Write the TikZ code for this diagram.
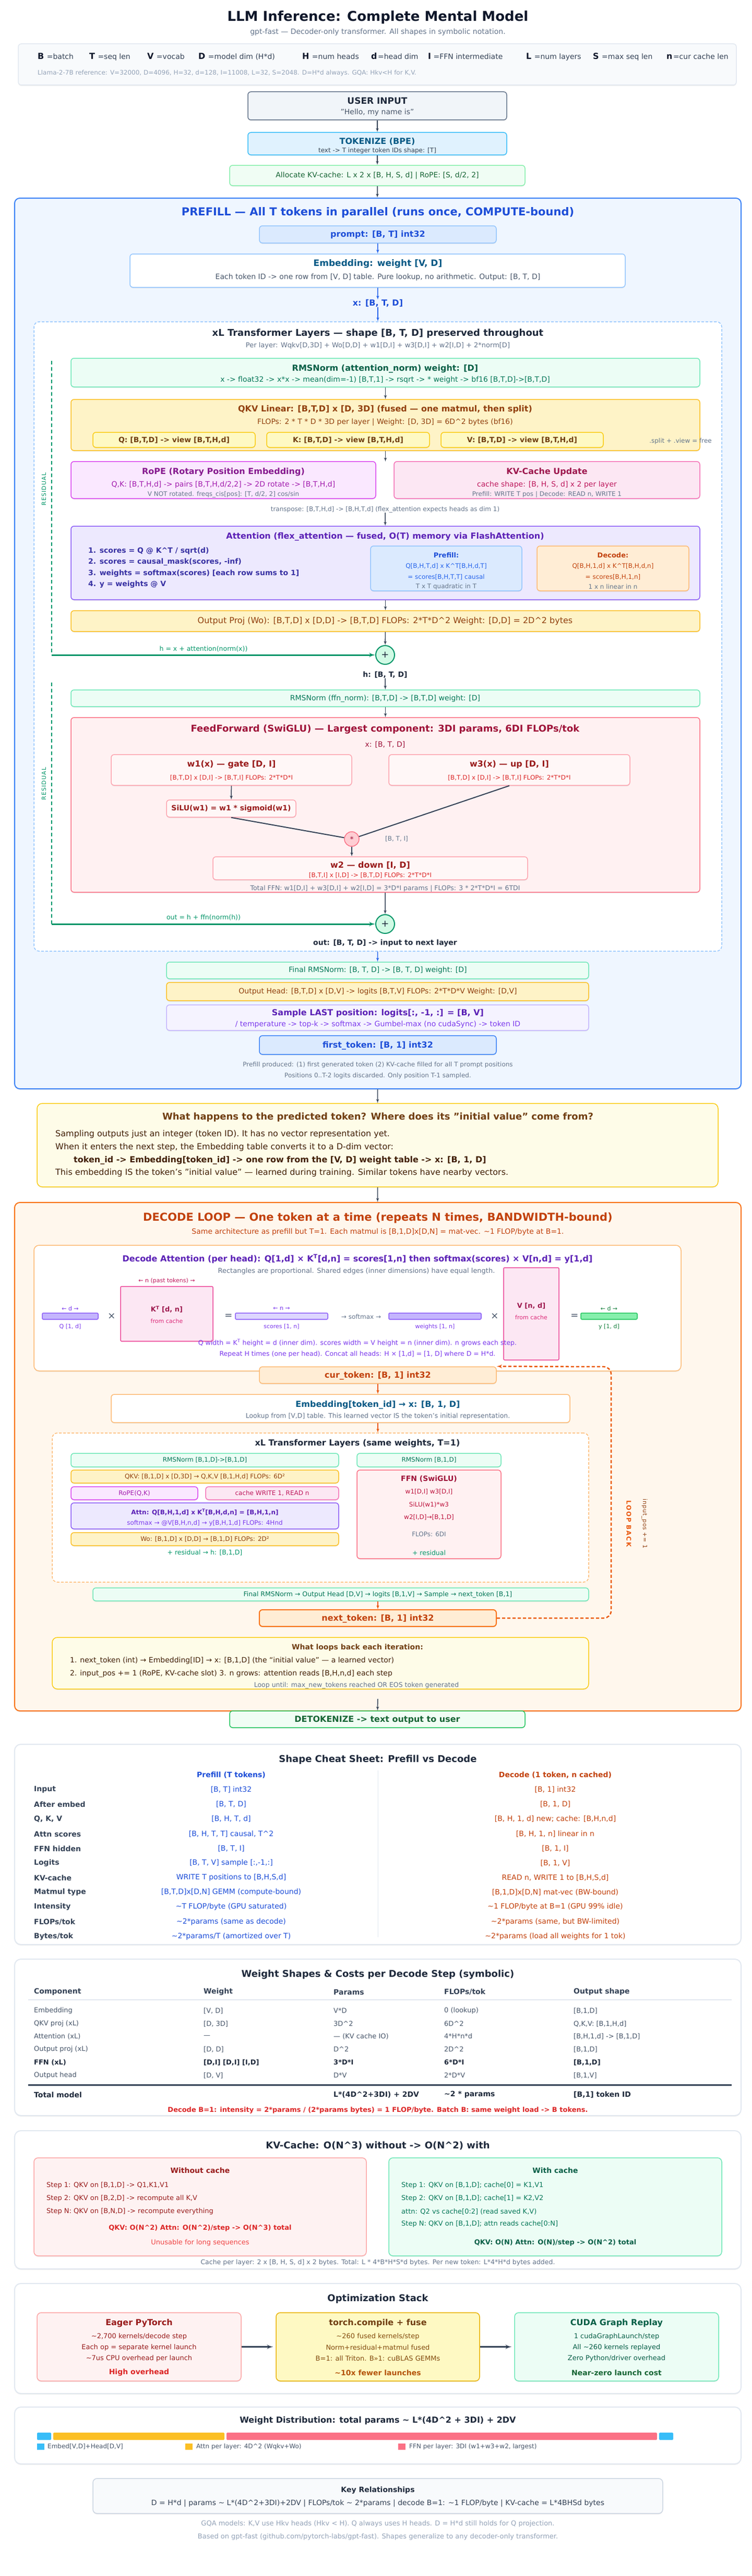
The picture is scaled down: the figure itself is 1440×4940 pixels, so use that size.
\documentclass[tikz,border=0pt]{standalone}
\usepackage{fontspec}
\setmainfont{DejaVu Sans}
\usepackage{tikz}
\usetikzlibrary{shapes,arrows,positioning,fit,shadows}

\definecolor{ink}{HTML}{0F172A}
\definecolor{slate800}{HTML}{1E293B}
\definecolor{slate700}{HTML}{334155}
\definecolor{slate600}{HTML}{475569}
\definecolor{slate500}{HTML}{64748B}
\definecolor{slate400}{HTML}{94A3B8}
\definecolor{slate300}{HTML}{CBD5E1}
\definecolor{slate200}{HTML}{E2E8F0}
\definecolor{slate100}{HTML}{F1F5F9}
\definecolor{slate50}{HTML}{F8FAFC}
\definecolor{blue50}{HTML}{EFF6FF}
\definecolor{blue100}{HTML}{DBEAFE}
\definecolor{blue300}{HTML}{93C5FD}
\definecolor{blue500}{HTML}{3B82F6}
\definecolor{blue600}{HTML}{2563EB}
\definecolor{blue700}{HTML}{1D4ED8}
\definecolor{sky100}{HTML}{E0F2FE}
\definecolor{sky400}{HTML}{38BDF8}
\definecolor{sky800}{HTML}{075985}
\definecolor{green50}{HTML}{F0FDF4}
\definecolor{green300}{HTML}{86EFAC}
\definecolor{green500}{HTML}{22C55E}
\definecolor{green700}{HTML}{15803D}
\definecolor{green800}{HTML}{166534}
\definecolor{emer50}{HTML}{ECFDF5}
\definecolor{emer100}{HTML}{D1FAE5}
\definecolor{emer300}{HTML}{6EE7B7}
\definecolor{emer600}{HTML}{059669}
\definecolor{emer700}{HTML}{047857}
\definecolor{emer800}{HTML}{065F46}
\definecolor{amber100}{HTML}{FEF3C7}
\definecolor{amber400}{HTML}{FBBF24}
\definecolor{amber700}{HTML}{B45309}
\definecolor{amber800}{HTML}{92400E}
\definecolor{yel50}{HTML}{FEFCE8}
\definecolor{yel100}{HTML}{FEF9C3}
\definecolor{yel400}{HTML}{FACC15}
\definecolor{yel500}{HTML}{EAB308}
\definecolor{yel800}{HTML}{854D0E}
\definecolor{yel900}{HTML}{713F12}
\definecolor{yel950}{HTML}{422006}
\definecolor{fuch100}{HTML}{FAE8FF}
\definecolor{fuch500}{HTML}{D946EF}
\definecolor{fuch700}{HTML}{A21CAF}
\definecolor{fuch800}{HTML}{86198F}
\definecolor{pink100}{HTML}{FCE7F3}
\definecolor{pink400}{HTML}{F472B6}
\definecolor{pink500}{HTML}{EC4899}
\definecolor{pink600}{HTML}{DB2777}
\definecolor{pink700}{HTML}{BE185D}
\definecolor{pink800}{HTML}{9D174D}
\definecolor{vio50}{HTML}{F5F3FF}
\definecolor{vio100}{HTML}{EDE9FE}
\definecolor{vio200}{HTML}{DDD6FE}
\definecolor{vio300}{HTML}{C4B5FD}
\definecolor{vio500}{HTML}{8B5CF6}
\definecolor{vio600}{HTML}{7C3AED}
\definecolor{vio800}{HTML}{5B21B6}
\definecolor{indigo800}{HTML}{3730A3}
\definecolor{or50}{HTML}{FFF7ED}
\definecolor{or100}{HTML}{FFEDD5}
\definecolor{or300}{HTML}{FDBA74}
\definecolor{or500}{HTML}{F97316}
\definecolor{or600}{HTML}{EA580C}
\definecolor{or700}{HTML}{C2410C}
\definecolor{rose50}{HTML}{FFF1F2}
\definecolor{rose200}{HTML}{FECDD3}
\definecolor{rose300}{HTML}{FDA4AF}
\definecolor{rose400}{HTML}{FB7185}
\definecolor{rose700}{HTML}{BE123C}
\definecolor{rose800}{HTML}{9F1239}
\definecolor{red50}{HTML}{FEF2F2}
\definecolor{red300}{HTML}{FCA5A5}
\definecolor{red500}{HTML}{EF4444}
\definecolor{red600}{HTML}{DC2626}
\definecolor{red800}{HTML}{991B1B}

\begin{document}
\begin{tikzpicture}[x=1pt, y=-1pt]
    \tikzstyle{plain} = [draw, rounded corners=6pt, line width=1.5pt, inner sep=0pt]
    \tikzstyle{bx} = [plain, drop shadow={shadow xshift=0pt, shadow yshift=-2pt, opacity=0.12}]
    \tikzstyle{panel} = [bx, rounded corners=12pt, fill=white, draw=slate200, line width=2pt]
    \tikzstyle{tx} = [inner sep=0pt]
    \tikzstyle{f11} = [font=\fontsize{11}{13}\selectfont]
    \tikzstyle{f12} = [font=\fontsize{12}{14}\selectfont]
    \tikzstyle{f125} = [font=\fontsize{12.5}{14.5}\selectfont]
    \tikzstyle{f13} = [font=\fontsize{13}{15}\selectfont]
    \tikzstyle{f14} = [font=\fontsize{14}{16}\selectfont]
    \tikzstyle{f16} = [font=\fontsize{16}{18}\selectfont]
    \tikzstyle{f18} = [font=\fontsize{18}{20}\selectfont]
    \tikzstyle{b12} = [font=\bfseries\fontsize{12}{14}\selectfont]
    \tikzstyle{b13} = [font=\bfseries\fontsize{13}{15}\selectfont]
    \tikzstyle{b14} = [font=\bfseries\fontsize{14}{16}\selectfont]
    \tikzstyle{b16} = [font=\bfseries\fontsize{16}{18}\selectfont]
    \tikzstyle{b17} = [font=\bfseries\fontsize{17}{19}\selectfont]
    \tikzstyle{b18} = [font=\bfseries\fontsize{18}{20}\selectfont]
    \tikzstyle{b21} = [font=\bfseries\fontsize{21}{23}\selectfont]
    \tikzstyle{b26} = [font=\bfseries\fontsize{26}{28}\selectfont]
    \tikzstyle{line} = [draw=slate700, line width=1.5pt, -latex']
    \tikzstyle{bline} = [line, draw=blue600]
    \tikzstyle{oline} = [line, draw=or600]
    \tikzstyle{fline} = [draw=slate700, line width=2pt]
    \tikzstyle{rdash} = [draw=emer600, line width=1.5pt, dash pattern=on 7pt off 5pt]
    \tikzstyle{rline} = [draw=emer600, line width=3pt, -latex']
    \tikzstyle{loopline} = [draw=or600, line width=2.5pt, dash pattern=on 6pt off 4pt, rounded corners=14pt, -latex']
    \tikzstyle{opline} = [draw=slate700, line width=3pt, -latex', shorten >=5pt]

    \useasboundingbox (0,0) rectangle (1440,4940);
    \fill[white] (0,0) rectangle (1440,4940);

    \node[tx, b26, text=ink] (title) at (724,33) {LLM Inference: Complete Mental Model};
    \node[tx, f14, text=slate500] (subtitle) at (724,62) {gpt-fast — Decoder-only transformer. All shapes in symbolic notation.};

    \node[bx, fit={(35,84) (1411,163)}, fill=slate50, draw=slate200] (legend) {};
    \node[tx, b16, text=ink, anchor=base west] (lgB) at (72,114) {B};
    \node[tx, f14, text=slate700, anchor=base west] (lgBd) at ([xshift=5pt]lgB.base east) {=batch};
    \node[tx, b16, text=ink, anchor=base west] (lgT) at (171,114) {T};
    \node[tx, f14, text=slate700, anchor=base west] (lgTd) at ([xshift=5pt]lgT.base east) {=seq len};
    \node[tx, b16, text=ink, anchor=base west] (lgV) at (282,114) {V};
    \node[tx, f14, text=slate700, anchor=base west] (lgVd) at ([xshift=5pt]lgV.base east) {=vocab};
    \node[tx, b16, text=ink, anchor=base west] (lgD) at (380,114) {D};
    \node[tx, f14, text=slate700, anchor=base west] (lgDd) at ([xshift=5pt]lgD.base east) {=model dim (H*d)};
    \node[tx, b16, text=ink, anchor=base west] (lgH) at (579,114) {H};
    \node[tx, f14, text=slate700, anchor=base west] (lgHd) at ([xshift=5pt]lgH.base east) {=num heads};
    \node[tx, b16, text=ink, anchor=base west] (lgd) at (711,114) {d};
    \node[tx, f14, text=slate700, anchor=base west] (lgdd) at ([xshift=1pt]lgd.base east) {=head dim};
    \node[tx, b16, text=ink, anchor=base west] (lgI) at (820,114) {I};
    \node[tx, f14, text=slate700, anchor=base west] (lgId) at ([xshift=4pt]lgI.base east) {=FFN intermediate};
    \node[tx, b16, text=ink, anchor=base west] (lgL) at (1008,114) {L};
    \node[tx, f14, text=slate700, anchor=base west] (lgLd) at ([xshift=5pt]lgL.base east) {=num layers};
    \node[tx, b16, text=ink, anchor=base west] (lgS) at (1136,114) {S};
    \node[tx, f14, text=slate700, anchor=base west] (lgSd) at ([xshift=5pt]lgS.base east) {=max seq len};
    \node[tx, b16, text=ink, anchor=base west] (lgn) at (1277,114) {n};
    \node[tx, f14, text=slate700, anchor=base west] (lgnd) at ([xshift=1pt]lgn.base east) {=cur cache len};
    \node[tx, f12, text=slate400, anchor=west] (llama) at (72,140) {Llama-2-7B reference: V=32000, D=4096, H=32, d=128, I=11008, L=32, S=2048. D=H*d always. GQA: Hkv<H for K,V.};

    \node[bx, fit={(475,176) (971,230)}, fill=slate100, draw=slate500] (user) {};
    \node[tx, b17, text=slate800] (userT) at (723,193) {USER INPUT};
    \node[tx, f14, text=slate600] (userS) at (723,216) {"Hello, my name is"};
    \node[bx, fit={(475,254) (971,297)}, fill=sky100, draw=sky400] (tok) {};
    \node[tx, b16, text=sky800] (tokT) at (723,271) {TOKENIZE (BPE)};
    \node[tx, f12, text=slate700] (tokS) at (723,289) {text -> T integer token IDs shape: [T]};
    \node[bx, fit={(440,317) (1006,356)}, fill=green50, draw=green300] (alloc) {};
    \node[tx, f14, text=green800] (allocT) at (723,337) {Allocate KV-cache: L x 2 x [B, H, S, d] | RoPE: [S, d/2, 2]};

    \node[bx, fit={(28,380) (1420,2088)}, fill=blue50, draw=blue500, line width=2pt, rounded corners=10pt] (prefill) {};
    \node[tx, b21, text=blue700] (prefillT) at (724,408) {PREFILL — All T tokens in parallel (runs once, COMPUTE-bound)};
    \node[bx, fit={(497,433) (951,466)}, fill=blue100, draw=blue300] (prompt) {};
    \node[tx, b16, text=blue700] (promptT) at (724,450) {prompt: [B, T] int32};
    \node[bx, fit={(249,487) (1198,551)}, fill=white, draw=blue300] (emb) {};
    \node[tx, b17, text=sky800] (embT) at (724,506) {Embedding: weight [V, D]};
    \node[tx, f14, text=slate600] (embS) at (724,532) {Each token ID -> one row from [V, D] table. Pure lookup, no arithmetic. Output: [B, T, D]};
    \node[tx, b16, text=blue700] (xlab) at (724,582) {x: [B, T, D]};

    \node[plain, fit={(65,617) (1383,1824)}, fill=white, draw=blue300, dash pattern=on 5pt off 3pt, rounded corners=10pt] (layers) {};
    \node[tx, b18, text=slate800] (layersT) at (724,640) {xL Transformer Layers — shape [B, T, D] preserved throughout};
    \node[tx, f13, text=slate500] (layersS) at (724,663) {Per layer: Wqkv[D,3D] + Wo[D,D] + w1[D,I] + w3[D,I] + w2[I,D] + 2*norm[D]};

    \node[bx, fit={(136,687) (1341,742)}, fill=emer50, draw=emer300] (rms1) {};
    \node[tx, b16, text=emer800] (rms1T) at (738,707) {RMSNorm (attention\_norm) weight: [D]};
    \node[tx, f14, text=emer700] (rms1S) at (738,729) {x -> float32 -> x*x -> mean(dim=-1) [B,T,1] -> rsqrt -> * weight -> bf16 [B,T,D]->[B,T,D]};

    \node[bx, fit={(136,766) (1341,864)}, fill=amber100, draw=amber400] (qkv) {};
    \node[tx, b16, text=amber800] (qkvT) at (738,785) {QKV Linear: [B,T,D] x [D, 3D] (fused — one matmul, then split)};
    \node[tx, f14, text=amber800] (qkvS) at (738,810) {FLOPs: 2 * T * D * 3D per layer | Weight: [D, 3D] = 6D\textasciicircum 2 bytes (bf16)};
    \node[bx, fit={(178,829) (489,858)}, fill=yel100, draw=yel400] (qv) {};
    \node[tx, b14, text=yel900] (qvT) at (333.5,844) {Q: [B,T,D] -> view [B,T,H,d]};
    \node[bx, fit={(511,829) (823,858)}, fill=yel100, draw=yel400] (kv) {};
    \node[tx, b14, text=yel900] (kvT) at (667,844) {K: [B,T,D] -> view [B,T,H,d]};
    \node[bx, fit={(845,829) (1156,858)}, fill=yel100, draw=yel400] (vv) {};
    \node[tx, b14, text=yel900] (vvT) at (1000.5,844) {V: [B,T,D] -> view [B,T,H,d]};
    \node[tx, f12, text=slate500] (splitnote) at (1304,846) {.split + .view = free};

    \node[bx, fit={(136,885) (720,956)}, fill=fuch100, draw=fuch500] (rope) {};
    \node[tx, b16, text=fuch800] (ropeT) at (428,905) {RoPE (Rotary Position Embedding)};
    \node[tx, f14, text=fuch700] (ropeS) at (428,930) {Q,K: [B,T,H,d] -> pairs [B,T,H,d/2,2] -> 2D rotate -> [B,T,H,d]};
    \node[tx, f12, text=slate500] (ropeN) at (428,948) {V NOT rotated. freqs\_cis[pos]: [T, d/2, 2] cos/sin};
    \node[bx, fit={(755,885) (1341,956)}, fill=pink100, draw=pink400] (kvup) {};
    \node[tx, b16, text=pink800] (kvupT) at (1048,905) {KV-Cache Update};
    \node[tx, f14, text=pink700] (kvupS) at (1048,930) {cache shape: [B, H, S, d] x 2 per layer};
    \node[tx, f12, text=slate500] (kvupN) at (1048,948) {Prefill: WRITE T pos | Decode: READ n, WRITE 1};
    \coordinate (split) at (738.5,885);
    \node[tx, f12, text=slate500] (tlab) at (738,977) {transpose: [B,T,H,d] -> [B,H,T,d] (flex\_attention expects heads as dim 1)};

    \node[bx, fit={(136,1009) (1341,1150)}, fill=vio100, draw=vio500] (attn) {};
    \node[tx, b16, text=vio800] (attnT) at (738,1029) {Attention (flex\_attention — fused, O(T) memory via FlashAttention)};
    \node[tx, b14, text=indigo800, anchor=west] (attn1) at (169,1057) {1. scores = Q @ K\textasciicircum T / sqrt(d)};
    \node[tx, b14, text=indigo800, anchor=west] (attn2) at (169,1078) {2. scores = causal\_mask(scores, -inf)};
    \node[tx, b14, text=indigo800, anchor=west] (attn3) at (169,1100) {3. weights = softmax(scores) [each row sums to 1]};
    \node[tx, b14, text=indigo800, anchor=west] (attn4) at (169,1121) {4. y = weights @ V};
    \node[bx, fit={(710,1047) (1000,1133)}, fill=blue100, draw=blue300] (pre) {};
    \node[tx, b13, text=blue700] (preT) at (855,1065) {Prefill:};
    \node[tx, f12, text=blue600] (pre1) at (855,1086) {Q[B,H,T,d] x K\textasciicircum T[B,H,d,T]};
    \node[tx, f12, text=blue600] (pre2) at (855,1107) {= scores[B,H,T,T] causal};
    \node[tx, f12, text=slate500] (pre3) at (855,1125) {T x T quadratic in T};
    \node[bx, fit={(1029,1047) (1320,1133)}, fill=or100, draw=or300] (dec) {};
    \node[tx, b13, text=or700] (decT) at (1174.5,1065) {Decode:};
    \node[tx, f12, text=or700] (dec1) at (1174.5,1086) {Q[B,H,1,d] x K\textasciicircum T[B,H,d,n]};
    \node[tx, f12, text=or700] (dec2) at (1174.5,1107) {= scores[B,H,1,n]};
    \node[tx, f12, text=slate500] (dec3) at (1174.5,1125) {1 x n linear in n};

    \node[bx, fit={(136,1171) (1341,1211)}, fill=amber100, draw=amber400] (oproj) {};
    \node[tx, f16, text=amber800] (oprojT) at (738,1191) {Output Proj (Wo): [B,T,D] x [D,D] -> [B,T,D] FLOPs: 2*T*D\textasciicircum 2 Weight: [D,D] = 2D\textasciicircum 2 bytes};

    \node[circle, draw=emer600, fill=emer100, line width=2pt, minimum size=36pt, inner sep=0pt, f18, text=slate800] (plus1) at (738,1256) {+};
    \coordinate (r1a) at (99,692);
    \coordinate (r1b) at (99,1256);
    \node[tx, f125, text=emer600] (hnote) at (390,1245) {h = x + attention(norm(x))};
    \node[tx, text=emer600, rotate=90, font=\fontsize{11}{13}\selectfont\addfontfeatures{LetterSpace=10}] (res1T) at (84,938) {RESIDUAL};
    \node[tx, b14, text=slate800] (hlab) at (738,1294) {h: [B, T, D]};

    \node[bx, fit={(136,1323) (1341,1355)}, fill=emer50, draw=emer300] (rms2) {};
    \node[tx, f14, text=emer700] (rms2T) at (738,1340) {RMSNorm (ffn\_norm): [B,T,D] -> [B,T,D] weight: [D]};

    \node[bx, fit={(136,1376) (1341,1711)}, fill=rose50, draw=rose400] (ffn) {};
    \node[tx, b18, text=rose800] (ffnT) at (738,1399) {FeedForward (SwiGLU) — Largest component: 3DI params, 6DI FLOPs/tok};
    \node[tx, f14, text=rose800] (ffnx) at (738,1428) {x: [B, T, D]};
    \node[bx, fit={(213,1447) (674,1506)}, fill=white!40!rose50, draw=rose300] (w1) {};
    \node[tx, b16, text=red800] (w1T) at (443.5,1466) {w1(x) — gate [D, I]};
    \node[tx, f12, text=red600] (w1S) at (443.5,1492) {[B,T,D] x [D,I] -> [B,T,I] FLOPs: 2*T*D*I};
    \node[bx, fit={(745,1447) (1207,1506)}, fill=white!40!rose50, draw=rose300] (w3) {};
    \node[tx, b16, text=red800] (w3T) at (976,1466) {w3(x) — up [D, I]};
    \node[tx, f12, text=red600] (w3S) at (976,1492) {[B,T,D] x [D,I] -> [B,T,I] FLOPs: 2*T*D*I};
    \node[bx, fit={(319,1534) (567,1567)}, fill=white!40!rose50, draw=rose300] (silu) {};
    \node[tx, b14, text=red800] (siluT) at (443,1551) {SiLU(w1) = w1 * sigmoid(w1)};
    \node[circle, draw=rose400, fill=rose200, line width=1.5pt, minimum size=28pt, inner sep=0pt, f14, text=rose800] (mul) at (674,1609) {*};
    \node[tx, f12, text=slate500] (bti) at (760,1609) {[B, T, I]};
    \node[bx, fit={(408,1643) (1011,1687)}, fill=white!40!rose50, draw=rose300] (w2) {};
    \node[tx, b16, text=red800] (w2T) at (709.5,1660) {w2 — down [I, D]};
    \node[tx, f12, text=red600] (w2S) at (709.5,1679) {[B,T,I] x [I,D] -> [B,T,D] FLOPs: 2*T*D*I};
    \node[tx, f125, text=slate500] (ffnN) at (738,1704) {Total FFN: w1[D,I] + w3[D,I] + w2[I,D] = 3*D*I params | FLOPs: 3 * 2*T*D*I = 6TDI};

    \node[circle, draw=emer600, fill=emer100, line width=2pt, minimum size=36pt, inner sep=0pt, f18, text=slate800] (plus2) at (738,1772) {+};
    \coordinate (r2a) at (99,1309);
    \coordinate (r2b) at (99,1772);
    \node[tx, f125, text=emer600] (onote) at (390,1760) {out = h + ffn(norm(h))};
    \node[tx, text=emer600, rotate=90, font=\fontsize{11}{13}\selectfont\addfontfeatures{LetterSpace=10}] (res2T) at (84,1503) {RESIDUAL};
    \node[tx, b14, text=slate800] (outlab) at (738,1809) {out: [B, T, D] -> input to next layer};

    \node[bx, fit={(319,1845) (1128,1877)}, fill=emer50, draw=emer300] (frms) {};
    \node[tx, f14, text=emer700] (frmsT) at (724,1861) {Final RMSNorm: [B, T, D] -> [B, T, D] weight: [D]};
    \node[bx, fit={(319,1884) (1128,1919)}, fill=amber100, draw=amber400] (ohead) {};
    \node[tx, f14, text=amber800] (oheadT) at (724,1902) {Output Head: [B,T,D] x [D,V] -> logits [B,T,V] FLOPs: 2*T*D*V Weight: [D,V]};
    \node[bx, fit={(319,1927) (1128,1976)}, fill=vio50, draw=vio300] (samp) {};
    \node[tx, b16, text=vio800] (sampT) at (724,1943) {Sample LAST position: logits[:, -1, :] = [B, V]};
    \node[tx, f14, text=vio600] (sampS) at (724,1965) {/ temperature -> top-k -> softmax -> Gumbel-max (no cudaSync) -> token ID};
    \node[bx, fit={(497,1986) (951,2022)}, fill=blue100, draw=blue500] (first) {};
    \node[tx, b16, text=blue700] (firstT) at (724,2005) {first\_token: [B, 1] int32};
    \node[tx, f12, text=slate500] (pnote1) at (724,2042) {Prefill produced: (1) first generated token (2) KV-cache filled for all T prompt positions};
    \node[tx, f12, text=slate500] (pnote2) at (724,2063) {Positions 0..T-2 logits discarded. Only position T-1 sampled.};

    \node[bx, fit={(71,2116) (1376,2276)}, fill=yel50, draw=yel400, rounded corners=10pt] (predq) {};
    \node[tx, b18, text=yel900] (predqT) at (724,2143) {What happens to the predicted token? Where does its "initial value" come from?};
    \node[tx, f16, text=yel950, anchor=west] (predq1) at (106,2175) {Sampling outputs just an integer (token ID). It has no vector representation yet.};
    \node[tx, f16, text=yel950, anchor=west] (predq2) at (106,2200) {When it enters the next step, the Embedding table converts it to a D-dim vector:};
    \node[tx, b16, text=yel950, anchor=west] (predq3) at (141,2225) {token\_id -> Embedding[token\_id] -> one row from the [V, D] weight table -> x: [B, 1, D]};
    \node[tx, f16, text=yel950, anchor=west] (predq4) at (106,2249) {This embedding IS the token's "initial value" — learned during training. Similar tokens have nearby vectors.};

    \node[bx, fit={(28,2306) (1420,3281)}, fill=or50, draw=or500, line width=2pt, rounded corners=10pt] (decode) {};
    \node[tx, b21, text=or700] (decodeT) at (724,2336) {DECODE LOOP — One token at a time (repeats N times, BANDWIDTH-bound)};
    \node[tx, f14, text=or700] (decodeS) at (724,2363) {Same architecture as prefill but T=1. Each matmul is [B,1,D]x[D,N] = mat-vec. \textasciitilde 1 FLOP/byte at B=1.};

    \node[bx, fit={(65,2388) (1305,2629)}, fill=white, draw=or300, rounded corners=10pt] (datt) {};
    \node[tx, b16, text=vio800] (dattT) at (685,2414) {Decode Attention (per head): Q[1,d] × K\textsuperscript{T}[d,n] = scores[1,n] then softmax(scores) × V[n,d] = y[1,d]};
    \node[tx, f13, text=slate500] (dattS) at (683,2438) {Rectangles are proportional. Shared edges (inner dimensions) have equal length.};
    \node[plain, fit={(81,2518) (188,2530)}, fill=vio300, draw=vio500, rounded corners=2pt] (qr) {};
    \node[plain, fit={(231,2467) (408,2572)}, fill=pink100, draw=pink500, rounded corners=2pt] (kr) {};
    \node[plain, fit={(451,2518) (628,2530)}, fill=vio200, draw=vio500, rounded corners=2pt] (sr) {};
    \node[plain, fit={(745,2518) (922,2530)}, fill=vio300, draw=vio500, rounded corners=2pt] (wr) {};
    \node[plain, fit={(965,2431) (1071,2608)}, fill=pink100, draw=pink500, rounded corners=2pt] (vr) {};
    \node[plain, fit={(1113,2518) (1221,2530)}, fill=green300, draw=green500, rounded corners=2pt] (yr) {};
    \node[tx, f11, text=vio600] (qd) at (134.5,2509) {← d →};
    \node[tx, f11, text=vio600] (ql) at (134.5,2544) {Q [1, d]};
    \node[tx, f18, text=slate600] (times1) at (214,2524) {×};
    \node[tx, f11, text=pink700] (kn) at (319.5,2456) {← n (past tokens) →};
    \node[tx, b13, text=pink800] (kt) at (319.5,2511) {K\textsuperscript{T} [d, n]};
    \node[tx, f11, text=pink600] (kc) at (319.5,2533) {from cache};
    \node[tx, f18, text=slate600] (eq1) at (438,2524) {=};
    \node[tx, f11, text=vio600] (sn) at (539.5,2509) {← n →};
    \node[tx, f11, text=vio600] (sl) at (539.5,2544) {scores [1, n]};
    \node[tx, f12, text=slate500] (smx) at (692,2525) {→ softmax →};
    \node[tx, f11, text=vio600] (wl) at (833.5,2544) {weights [1, n]};
    \node[tx, f18, text=slate600] (times2) at (948,2524) {×};
    \node[tx, b13, text=pink800] (vt) at (1018,2504) {V [n, d]};
    \node[tx, f11, text=pink600] (vc) at (1018,2526) {from cache};
    \node[tx, f18, text=slate600] (eq2) at (1101,2524) {=};
    \node[tx, f11, text=green700] (yd) at (1167,2509) {← d →};
    \node[tx, f11, text=green700] (yl) at (1167,2544) {y [1, d]};
    \node[tx, f125, text=vio600] (dattN1) at (685,2575) {Q width = K\textsuperscript{T} height = d (inner dim). scores width = V height = n (inner dim). n grows each step.};
    \node[tx, f125, text=vio600] (dattN2) at (685,2597) {Repeat H times (one per head). Concat all heads: H × [1,d] = [1, D] where D = H*d.};

    \node[bx, fit={(497,2621) (951,2653)}, fill=or100, draw=or300] (cur) {};
    \node[tx, b16, text=or700] (curT) at (724,2638) {cur\_token: [B, 1] int32};
    \node[bx, fit={(213,2674) (1092,2728)}, fill=white, draw=or300] (demb) {};
    \node[tx, b16, text=sky800] (dembT) at (724,2694) {Embedding[token\_id] → x: [B, 1, D]};
    \node[tx, f125, text=slate500] (dembS) at (724,2716) {Lookup from [V,D] table. This learned vector IS the token's initial representation.};

    \node[plain, fit={(100,2748) (1128,3034)}, fill=white, draw=or300, dash pattern=on 5pt off 3pt, rounded corners=10pt] (dlay) {};
    \node[tx, b16, text=slate800] (dlayT) at (685,2768) {xL Transformer Layers (same weights, T=1)};
    \node[bx, fit={(136,2787) (649,2813)}, fill=emer50, draw=emer300] (drmsL) {};
    \node[tx, f12, text=emer700] (drmsLT) at (392.5,2800) {RMSNorm [B,1,D]->[B,1,D]};
    \node[bx, fit={(684,2787) (960,2813)}, fill=emer50, draw=emer300] (drmsR) {};
    \node[tx, f12, text=emer700] (drmsRT) at (822,2800) {RMSNorm [B,1,D]};
    \node[bx, fit={(136,2819) (649,2844)}, fill=amber100, draw=amber400] (dqkv) {};
    \node[tx, f12, text=amber800] (dqkvT) at (392.5,2832) {QKV: [B,1,D] x [D,3D] → Q,K,V [B,1,H,d] FLOPs: 6D²};
    \node[bx, fit={(136,2851) (379,2876)}, fill=fuch100, draw=fuch500] (drope) {};
    \node[tx, f12, text=fuch700] (dropeT) at (257.5,2864) {RoPE(Q,K)};
    \node[bx, fit={(394,2851) (649,2876)}, fill=pink100, draw=pink400] (dcache) {};
    \node[tx, f12, text=pink700] (dcacheT) at (521.5,2864) {cache WRITE 1, READ n};
    \node[bx, fit={(136,2882) (649,2932)}, fill=vio100, draw=vio500] (dattn) {};
    \node[tx, b12, text=vio800] (dattnT) at (392.5,2900) {Attn: Q[B,H,1,d] x K\textsuperscript{T}[B,H,d,n] = [B,H,1,n]};
    \node[tx, f12, text=vio600] (dattnS) at (392.5,2921) {softmax → @V[B,H,n,d] → y[B,H,1,d] FLOPs: 4Hnd};
    \node[bx, fit={(136,2939) (649,2964)}, fill=amber100, draw=amber400] (dwo) {};
    \node[tx, f12, text=amber800] (dwoT) at (392.5,2952) {Wo: [B,1,D] x [D,D] → [B,1,D] FLOPs: 2D²};
    \node[tx, f125, text=emer600] (dres) at (392.5,2978) {+ residual → h: [B,1,D]};
    \node[bx, fit={(684,2819) (960,2989)}, fill=rose50, draw=rose400] (dffn) {};
    \node[tx, b14, text=rose800] (dffnT) at (822,2836) {FFN (SwiGLU)};
    \node[tx, f12, text=rose700] (dffn1) at (822,2861) {w1[D,I] w3[D,I]};
    \node[tx, f12, text=rose700] (dffn2) at (822,2886) {SiLU(w1)*w3};
    \node[tx, f12, text=rose700] (dffn3) at (822,2910) {w2[I,D]→[B,1,D]};
    \node[tx, f12, text=slate500] (dffn4) at (822,2942) {FLOPs: 6DI};
    \node[tx, f125, text=emer600] (dffn5) at (822,2978) {+ residual};

    \node[bx, fit={(178,3045) (1128,3070)}, fill=emer50, draw=emer300] (dfin) {};
    \node[tx, f125, text=emer700] (dfinT) at (724,3058) {Final RMSNorm → Output Head [D,V] → logits [B,1,V] → Sample → next\_token [B,1]};
    \node[bx, fit={(497,3087) (951,3119)}, fill=or100, draw=or500, line width=2pt] (next) {};
    \node[tx, b16, text=or700] (nextT) at (724,3104) {next\_token: [B, 1] int32};
    \coordinate (lb) at (1171,2621);
    \node[tx, text=or600, rotate=-90, font=\bfseries\fontsize{12}{14}\selectfont\addfontfeatures{LetterSpace=15}] (loopT) at (1205,2922) {LOOP BACK};
    \node[tx, text=amber800, rotate=-90, font=\fontsize{11}{13}\selectfont\addfontfeatures{LetterSpace=7}] (loopS) at (1235,2922) {input\_pos += 1};

    \node[bx, fit={(100,3140) (1128,3239)}, fill=yel50, draw=yel400, rounded corners=10pt] (loopq) {};
    \node[tx, b14, text=yel900] (loopqT) at (685,3160) {What loops back each iteration:};
    \node[tx, f14, text=yel950, anchor=west] (loopq1) at (134,3185) {1. next\_token (int) → Embedding[ID] → x: [B,1,D] (the “initial value” — a learned vector)};
    \node[tx, f14, text=yel950, anchor=west] (loopq2) at (134,3210) {2. input\_pos += 1 (RoPE, KV-cache slot) 3. n grows: attention reads [B,H,n,d] each step};
    \node[tx, f125, text=slate500] (loopqN) at (683,3232) {Loop until: max\_new\_tokens reached OR EOS token generated};
    \node[bx, fit={(440,3281) (1006,3313)}, fill=green50, draw=green500] (detok) {};
    \node[tx, b16, text=green800] (detokT) at (723,3298) {DETOKENIZE -> text output to user};

    \node[panel, fit={(28,3345) (1420,3729)}] (cheat) {};
    \node[tx, b18, text=slate800] (cheatT) at (724,3374) {Shape Cheat Sheet: Prefill vs Decode};
    \draw[slate200, line width=1pt] (724,3395) -- (724,3715);
    \node[tx, b14, text=blue700] (chP) at (443,3404) {Prefill (T tokens)};
    \node[tx, b14, text=or700] (chD) at (1064,3404) {Decode (1 token, n cached)};
    \node[tx, b14, text=slate700, anchor=west] (c1) at (65,3432) {Input};
    \node[tx, f14, text=blue700] (c1p) at (443,3432) {[B, T] int32};
    \node[tx, f14, text=or700] (c1d) at (1064,3432) {[B, 1] int32};
    \node[tx, b14, text=slate700, anchor=west] (c2) at (65,3460) {After embed};
    \node[tx, f14, text=blue700] (c2p) at (443,3460) {[B, T, D]};
    \node[tx, f14, text=or700] (c2d) at (1064,3460) {[B, 1, D]};
    \node[tx, b14, text=slate700, anchor=west] (c3) at (65,3488) {Q, K, V};
    \node[tx, f14, text=blue700] (c3p) at (443,3488) {[B, H, T, d]};
    \node[tx, f14, text=or700] (c3d) at (1064,3488) {[B, H, 1, d] new; cache: [B,H,n,d]};
    \node[tx, b14, text=slate700, anchor=west] (c4) at (65,3517) {Attn scores};
    \node[tx, f14, text=blue700] (c4p) at (443,3517) {[B, H, T, T] causal, T\textasciicircum 2};
    \node[tx, f14, text=or700] (c4d) at (1064,3517) {[B, H, 1, n] linear in n};
    \node[tx, b14, text=slate700, anchor=west] (c5) at (65,3545) {FFN hidden};
    \node[tx, f14, text=blue700] (c5p) at (443,3545) {[B, T, I]};
    \node[tx, f14, text=or700] (c5d) at (1064,3545) {[B, 1, I]};
    \node[tx, b14, text=slate700, anchor=west] (c6) at (65,3573) {Logits};
    \node[tx, f14, text=blue700] (c6p) at (443,3573) {[B, T, V] sample [:,-1,:]};
    \node[tx, f14, text=or700] (c6d) at (1064,3573) {[B, 1, V]};
    \node[tx, b14, text=slate700, anchor=west] (c7) at (65,3601) {KV-cache};
    \node[tx, f14, text=blue700] (c7p) at (443,3601) {WRITE T positions to [B,H,S,d]};
    \node[tx, f14, text=or700] (c7d) at (1064,3601) {READ n, WRITE 1 to [B,H,S,d]};
    \node[tx, b14, text=slate700, anchor=west] (c8) at (65,3629) {Matmul type};
    \node[tx, f14, text=blue700] (c8p) at (443,3629) {[B,T,D]x[D,N] GEMM (compute-bound)};
    \node[tx, f14, text=or700] (c8d) at (1064,3629) {[B,1,D]x[D,N] mat-vec (BW-bound)};
    \node[tx, b14, text=slate700, anchor=west] (c9) at (65,3657) {Intensity};
    \node[tx, f14, text=blue700] (c9p) at (443,3657) {\textasciitilde T FLOP/byte (GPU saturated)};
    \node[tx, f14, text=or700] (c9d) at (1064,3657) {\textasciitilde 1 FLOP/byte at B=1 (GPU 99\% idle)};
    \node[tx, b14, text=slate700, anchor=west] (c10) at (65,3686) {FLOPs/tok};
    \node[tx, f14, text=blue700] (c10p) at (443,3686) {\textasciitilde 2*params (same as decode)};
    \node[tx, f14, text=or700] (c10d) at (1064,3686) {\textasciitilde 2*params (same, but BW-limited)};
    \node[tx, b14, text=slate700, anchor=west] (c11) at (65,3714) {Bytes/tok};
    \node[tx, f14, text=blue700] (c11p) at (443,3714) {\textasciitilde 2*params/T (amortized over T)};
    \node[tx, f14, text=or700] (c11d) at (1064,3714) {\textasciitilde 2*params (load all weights for 1 tok)};

    \node[panel, fit={(28,3757) (1420,4057)}] (wshape) {};
    \node[tx, b18, text=slate800] (wshapeT) at (724,3787) {Weight Shapes \& Costs per Decode Step (symbolic)};
    \node[tx, b14, text=slate700, anchor=west] (wh1) at (65,3820) {Component};
    \node[tx, b14, text=slate700, anchor=west] (wh2) at (390,3820) {Weight};
    \node[tx, b14, text=slate700, anchor=west] (wh3) at (639,3820) {Params};
    \node[tx, b14, text=slate700, anchor=west] (wh4) at (851,3820) {FLOPs/tok};
    \node[tx, b14, text=slate700, anchor=west] (wh5) at (1099,3820) {Output shape};
    \draw[slate200, line width=2pt] (54,3835) -- (1402,3835);
    \node[tx, f13, text=slate600, anchor=west] (wr1a) at (65,3856) {Embedding};
    \node[tx, f13, text=slate600, anchor=west] (wr1b) at (390,3856) {[V, D]};
    \node[tx, f13, text=slate600, anchor=west] (wr1c) at (639,3856) {V*D};
    \node[tx, f13, text=slate600, anchor=west] (wr1d) at (851,3856) {0 (lookup)};
    \node[tx, f13, text=slate600, anchor=west] (wr1e) at (1099,3856) {[B,1,D]};
    \node[tx, f13, text=slate600, anchor=west] (wr2a) at (65,3881) {QKV proj (xL)};
    \node[tx, f13, text=slate600, anchor=west] (wr2b) at (390,3881) {[D, 3D]};
    \node[tx, f13, text=slate600, anchor=west] (wr2c) at (639,3881) {3D\textasciicircum 2};
    \node[tx, f13, text=slate600, anchor=west] (wr2d) at (851,3881) {6D\textasciicircum 2};
    \node[tx, f13, text=slate600, anchor=west] (wr2e) at (1099,3881) {Q,K,V: [B,1,H,d]};
    \node[tx, f13, text=slate600, anchor=west] (wr3a) at (65,3905) {Attention (xL)};
    \node[tx, f13, text=slate600, anchor=west] (wr3b) at (390,3905) {—};
    \node[tx, f13, text=slate600, anchor=west] (wr3c) at (639,3905) {— (KV cache IO)};
    \node[tx, f13, text=slate600, anchor=west] (wr3d) at (851,3905) {4*H*n*d};
    \node[tx, f13, text=slate600, anchor=west] (wr3e) at (1099,3905) {[B,H,1,d] -> [B,1,D]};
    \node[tx, f13, text=slate600, anchor=west] (wr4a) at (65,3930) {Output proj (xL)};
    \node[tx, f13, text=slate600, anchor=west] (wr4b) at (390,3930) {[D, D]};
    \node[tx, f13, text=slate600, anchor=west] (wr4c) at (639,3930) {D\textasciicircum 2};
    \node[tx, f13, text=slate600, anchor=west] (wr4d) at (851,3930) {2D\textasciicircum 2};
    \node[tx, f13, text=slate600, anchor=west] (wr4e) at (1099,3930) {[B,1,D]};
    \node[tx, b13, text=slate800, anchor=west] (wr5a) at (65,3955) {FFN (xL)};
    \node[tx, b13, text=slate800, anchor=west] (wr5b) at (390,3955) {[D,I] [D,I] [I,D]};
    \node[tx, b13, text=slate800, anchor=west] (wr5c) at (639,3955) {3*D*I};
    \node[tx, b13, text=slate800, anchor=west] (wr5d) at (851,3955) {6*D*I};
    \node[tx, b13, text=slate800, anchor=west] (wr5e) at (1099,3955) {[B,1,D]};
    \node[tx, f13, text=slate600, anchor=west] (wr6a) at (65,3980) {Output head};
    \node[tx, f13, text=slate600, anchor=west] (wr6b) at (390,3980) {[D, V]};
    \node[tx, f13, text=slate600, anchor=west] (wr6c) at (639,3980) {D*V};
    \node[tx, f13, text=slate600, anchor=west] (wr6d) at (851,3980) {2*D*V};
    \node[tx, f13, text=slate600, anchor=west] (wr6e) at (1099,3980) {[B,1,V]};
    \draw[slate700, line width=3pt] (54,3998) -- (1402,3998);
    \node[tx, b14, text=slate800, anchor=west] (wt1) at (65,4017) {Total model};
    \node[tx, b14, text=slate800, anchor=west] (wt2) at (639,4017) {L*(4D\textasciicircum 2+3DI) + 2DV};
    \node[tx, b14, text=slate800, anchor=west] (wt3) at (851,4017) {\textasciitilde 2 * params};
    \node[tx, b14, text=slate800, anchor=west] (wt4) at (1099,4017) {[B,1] token ID};
    \node[tx, b13, text=red600] (wnote) at (724,4047) {Decode B=1: intensity = 2*params / (2*params bytes) = 1 FLOP/byte. Batch B: same weight load -> B tokens.};

    \node[panel, fit={(28,4086) (1420,4351)}] (kvc) {};
    \node[tx, b18, text=slate800] (kvcT) at (724,4115) {KV-Cache: O(N\textasciicircum 3) without -> O(N\textasciicircum 2) with};
    \node[bx, fit={(65,4138) (702,4326)}, fill=red50, draw=red300, rounded corners=8pt] (nocache) {};
    \node[tx, b14, text=red800] (nocacheT) at (383.5,4162) {Without cache};
    \node[tx, f13, text=red800, anchor=west] (nc1) at (89,4191) {Step 1: QKV on [B,1,D] -> Q1,K1,V1};
    \node[tx, f13, text=red800, anchor=west] (nc2) at (89,4216) {Step 2: QKV on [B,2,D] -> recompute all K,V};
    \node[tx, f13, text=red800, anchor=west] (nc3) at (89,4241) {Step N: QKV on [B,N,D] -> recompute everything};
    \node[tx, b13, text=red600] (nc4) at (383.5,4273) {QKV: O(N\textasciicircum 2) Attn: O(N\textasciicircum 2)/step -> O(N\textasciicircum 3) total};
    \node[tx, f13, text=red500] (nc5) at (383.5,4301) {Unusable for long sequences};
    \node[bx, fit={(745,4138) (1383,4326)}, fill=emer50, draw=emer300, rounded corners=8pt] (wcache) {};
    \node[tx, b14, text=emer800] (wcacheT) at (1064,4162) {With cache};
    \node[tx, f13, text=emer700, anchor=west] (wc1) at (769,4191) {Step 1: QKV on [B,1,D]; cache[0] = K1,V1};
    \node[tx, f13, text=emer700, anchor=west] (wc2) at (769,4216) {Step 2: QKV on [B,1,D]; cache[1] = K2,V2};
    \node[tx, f13, text=emer700, anchor=west] (wc3) at (769,4241) {attn: Q2 vs cache[0:2] (read saved K,V)};
    \node[tx, f13, text=emer700, anchor=west] (wc4) at (769,4265) {Step N: QKV on [B,1,D]; attn reads cache[0:N]};
    \node[tx, b13, text=emer800] (wc5) at (1064,4301) {QKV: O(N) Attn: O(N)/step -> O(N\textasciicircum 2) total};
    \node[tx, f125, text=slate500] (kvcN) at (724,4339) {Cache per layer: 2 x [B, H, S, d] x 2 bytes. Total: L * 4*B*H*S*d bytes. Per new token: L*4*H*d bytes added.};

    \node[panel, fit={(28,4379) (1420,4590)}] (opt) {};
    \node[tx, b18, text=slate800] (optT) at (724,4408) {Optimization Stack};
    \node[bx, fit={(71,4435) (462,4566)}, fill=red50, draw=red300, rounded corners=8pt] (eager) {};
    \node[tx, b16, text=red800] (eagerT) at (266.5,4455) {Eager PyTorch};
    \node[tx, f13, text=red800] (eager1) at (266.5,4481) {\textasciitilde 2,700 kernels/decode step};
    \node[tx, f13, text=red800] (eager2) at (266.5,4502) {Each op = separate kernel launch};
    \node[tx, f13, text=red800] (eager3) at (266.5,4523) {\textasciitilde 7us CPU overhead per launch};
    \node[tx, b14, text=red600] (eager4) at (266.5,4550) {High overhead};
    \node[bx, fit={(529,4435) (919,4566)}, fill=yel100, draw=yel500, rounded corners=8pt] (comp) {};
    \node[tx, b16, text=yel900] (compT) at (724,4455) {torch.compile + fuse};
    \node[tx, f13, text=yel800] (comp1) at (724,4481) {\textasciitilde 260 fused kernels/step};
    \node[tx, f13, text=yel800] (comp2) at (724,4502) {Norm+residual+matmul fused};
    \node[tx, f13, text=yel800] (comp3) at (724,4523) {B=1: all Triton. B>>1: cuBLAS GEMMs};
    \node[tx, b14, text=amber700] (comp4) at (724,4550) {\textasciitilde 10x fewer launches};
    \node[bx, fit={(986,4435) (1377,4566)}, fill=emer50, draw=emer300, rounded corners=8pt] (cuda) {};
    \node[tx, b16, text=emer800] (cudaT) at (1181.5,4455) {CUDA Graph Replay};
    \node[tx, f13, text=emer800] (cuda1) at (1181.5,4481) {1 cudaGraphLaunch/step};
    \node[tx, f13, text=emer800] (cuda2) at (1181.5,4502) {All \textasciitilde 260 kernels replayed};
    \node[tx, f13, text=emer800] (cuda3) at (1181.5,4523) {Zero Python/driver overhead};
    \node[tx, b14, text=green800] (cuda4) at (1181.5,4550) {Near-zero launch cost};

    \node[panel, fit={(28,4616) (1420,4725)}] (wdist) {};
    \node[tx, b16, text=slate800] (wdistT) at (724,4642) {Weight Distribution: total params \textasciitilde{} L*(4D\textasciicircum 2 + 3DI) + 2DV};
    \fill[sky400, rounded corners=1.5pt] (71,4665) rectangle (98,4679);
    \fill[amber400, rounded corners=1.5pt] (102,4665) rectangle (430,4679);
    \fill[rose400, rounded corners=1.5pt] (434,4665) rectangle (1259,4679);
    \fill[sky400, rounded corners=1.5pt] (1263,4665) rectangle (1290,4679);
    \fill[sky400] (71,4686) rectangle (85,4698);
    \node[tx, f12, text=slate600, anchor=west] (wd1) at (91,4692) {Embed[V,D]+Head[D,V]};
    \fill[amber400] (355,4686) rectangle (369,4698);
    \node[tx, f12, text=slate600, anchor=west] (wd2) at (376,4692) {Attn per layer: 4D\textasciicircum 2 (Wqkv+Wo)};
    \fill[rose400] (763,4686) rectangle (777,4698);
    \node[tx, f12, text=slate600, anchor=west] (wd3) at (784,4692) {FFN per layer: 3DI (w1+w3+w2, largest)};

    \node[bx, fit={(178,4753) (1270,4820)}, fill=slate50, draw=slate300, rounded corners=8pt] (keyrel) {};
    \node[tx, b14, text=slate800] (keyrelT) at (724,4776) {Key Relationships};
    \node[tx, f14, text=slate700] (keyrelS) at (724,4801) {D = H*d | params \textasciitilde{} L*(4D\textasciicircum 2+3DI)+2DV | FLOPs/tok \textasciitilde{} 2*params | decode B=1: \textasciitilde 1 FLOP/byte | KV-cache = L*4BHSd bytes};
    \node[tx, f13, text=slate400] (foot1) at (724,4840) {GQA models: K,V use Hkv heads (Hkv < H). Q always uses H heads. D = H*d still holds for Q projection.};
    \node[tx, f13, text=slate400] (foot2) at (724,4865) {Based on gpt-fast (github.com/pytorch-labs/gpt-fast). Shapes generalize to any decoder-only transformer.};

    \path[line] (user) -- (tok);
    \path[line] (tok) -- (alloc);
    \path[line] (alloc) -- (prefill);
    \path[bline] (prompt) -- (emb);
    \path[bline] (emb) -- (xlab);
    \path[bline] (xlab) -- (layers);
    \path[line] (rms1) -- (qkv);
    \path[line] (qkv) -- (split);
    \path[line] (tlab) -- (attn);
    \path[line] (attn) -- (oproj);
    \path[line] (oproj) -- (plus1);
    \path[rdash] (r1a) -- (r1b);
    \path[rline] (r1b) -- (plus1);
    \path[line] (hlab) -- (rms2);
    \path[line] (rms2) -- (ffn);
    \path[line] (w1) -- (silu);
    \path[fline] (silu.south) -- (mul);
    \path[fline] (w3.south) -- (mul);
    \path[line] (mul) -- (mul |- w2.north);
    \path[line] (ffn) -- (plus2);
    \path[rdash] (r2a) -- (r2b);
    \path[rline] (r2b) -- (plus2);
    \path[bline] (layers) -- (frms);
    \path[line] (prefill) -- (predq);
    \path[line] (predq) -- (decode);
    \path[oline] (cur) -- (cur |- demb.north);
    \path[oline] (demb.south -| cur) -- (dlay.north -| cur);
    \path[oline] (dfin.south -| next) -- (next);
    \path[loopline] (next.east) -| (lb) -- (cur.north east);
    \path[line] ([yshift=24pt]decode.south) -- (detok);
    \path[opline] (eager) -- (comp);
    \path[opline] (comp) -- (cuda);
\end{tikzpicture}
\end{document}
